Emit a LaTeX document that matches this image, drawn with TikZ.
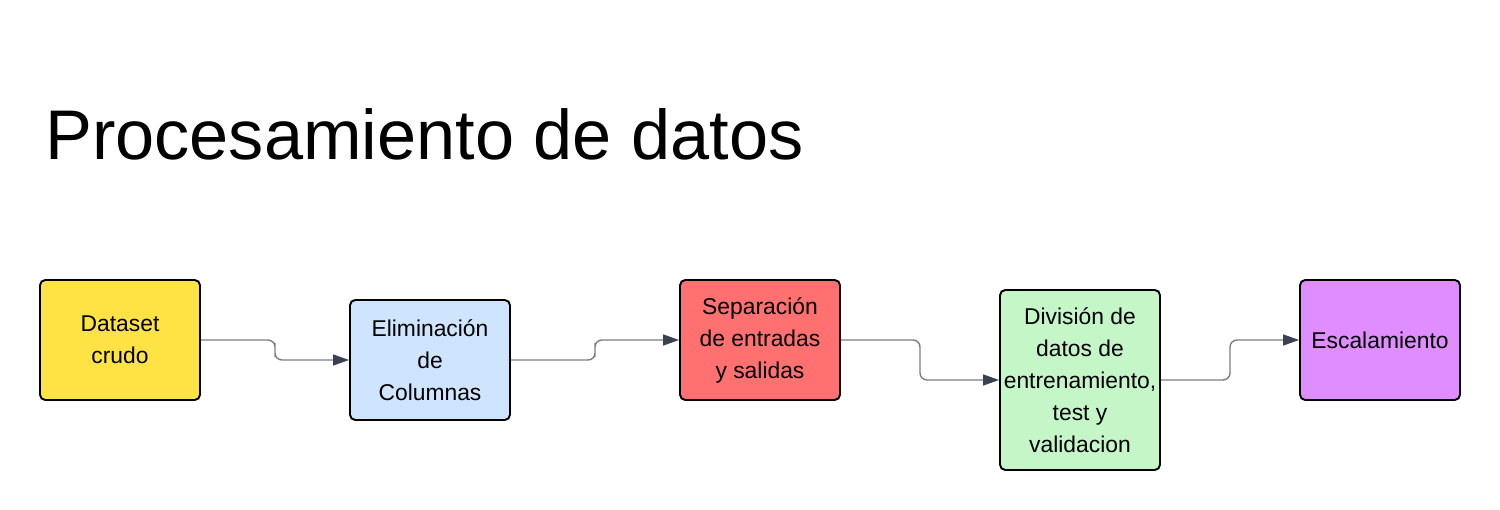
\documentclass[tikz,border=0pt]{standalone}
\usepackage{fontspec}
\setmainfont{Liberation Sans}
\usetikzlibrary{arrows.meta,calc}

\definecolor{boxyellow}{RGB}{255,226,67}
\definecolor{boxblue}{RGB}{207,228,255}
\definecolor{boxred}{RGB}{255,112,112}
\definecolor{boxgreen}{RGB}{196,246,200}
\definecolor{boxpurple}{RGB}{224,141,255}
\definecolor{linegray}{RGB}{122,127,135}
\definecolor{tipdark}{RGB}{59,65,80}

\begin{document}
\begin{tikzpicture}[
    stage/.style={rectangle, draw=black, line width=1.1pt, rounded corners=3pt,
      minimum width=3.2cm, minimum height=2.4cm, inner sep=0pt, align=center,
      font=\fontsize{13}{18.2}\selectfont},
    conn/.style={draw=linegray, line width=0.8pt, rounded corners=4pt,
      -{Triangle[length=0.32cm,width=0.22cm,color=tipdark]}}
]
\useasboundingbox (0,0) rectangle (30,10.2);

% Title
\node[anchor=base west, inner sep=0pt, font=\fontsize{40}{48}\selectfont] (title) at (0.9,7.0) {Procesamiento de datos};

% Processing stages
\node[stage, fill=boxyellow] (raw) at (2.4,3.4) {Dataset\\crudo};
\node[stage, fill=boxblue] (drop) at (8.6,3.0) {Eliminación\\de\\Columnas};
\node[stage, fill=boxred] (split) at (15.2,3.4) {Separación\\de entradas\\y salidas};
\node[stage, fill=boxgreen, minimum height=3.6cm] (sets) at (21.6,2.6) {División de\\datos de\\entrenamiento,\\test y\\validacion};
\node[stage, fill=boxpurple] (scale) at (27.6,3.4) {Escalamiento};

% Connectors
\draw[conn] (raw.east) -| ($(raw.east)!0.5!(drop.west)$) |- (drop.west);
\draw[conn] (drop.east) -| ($(drop.east)!0.5!(split.west)$) |- (split.west);
\draw[conn] (split.east) -| ($(split.east)!0.5!(sets.west)$) |- (sets.west);
\draw[conn] (sets.east) -| ($(sets.east)!0.5!(scale.west)$) |- (scale.west);

\end{tikzpicture}
\end{document}
